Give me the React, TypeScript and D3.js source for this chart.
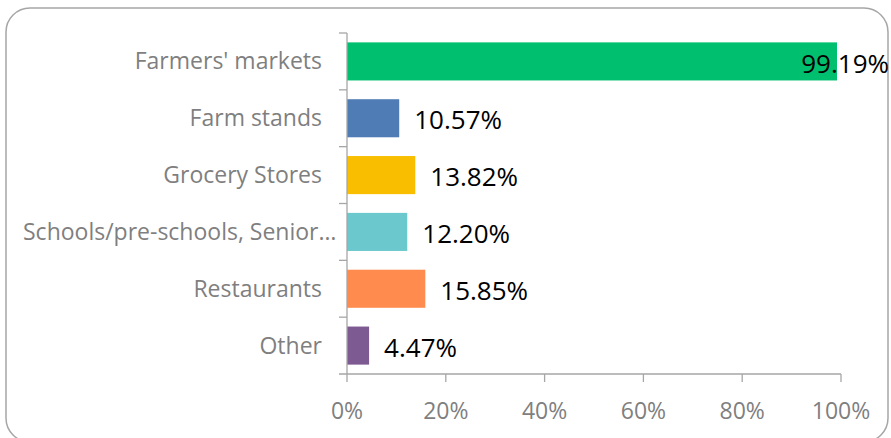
import React, { useEffect, useRef } from 'react';
import * as d3 from 'd3';

const categories = [
  "Farmers' markets",
  'Farm stands',
  'Grocery Stores',
  'Schools/pre-schools, Senior…',
  'Restaurants',
  'Other',
];
const values = [99.19, 10.57, 13.82, 12.2, 15.85, 4.47];
const barColors = ['#00bf6f', '#507cb6', '#f9be00', '#6bc8cd', '#ff8b4f', '#7d5a91'];
const xTicks = [0, 20, 40, 60, 80, 100];

const width = 891;
const height = 438;

const App: React.FC = () => {
  const svgRef = useRef<SVGSVGElement>(null);

  useEffect(() => {
    if (!svgRef.current) return;
    const svg = d3.select(svgRef.current);
    svg.selectAll('*').remove();

    const font = "'Open Sans', 'Noto Sans', sans-serif";
    const axisColor = '#a6a6a6';
    const labelColor = '#7f7f7f';

    // chart frame
    svg.append('rect')
      .attr('x', 6)
      .attr('y', 8)
      .attr('width', 882)
      .attr('height', 434)
      .attr('rx', 24)
      .attr('fill', '#fff')
      .attr('stroke', axisColor)
      .attr('stroke-width', 1.5);

    const x = d3.scaleLinear().domain([0, 100]).range([347, 841]);
    const y = d3.scaleBand<string>()
      .domain(categories)
      .range([33, 374])
      .paddingInner(0.33)
      .paddingOuter(0.165);

    const step = y.step();
    const y0 = 33;

    // bars
    svg.append('g')
      .selectAll('rect')
      .data(values)
      .enter()
      .append('rect')
      .attr('x', x(0))
      .attr('y', (_, i) => y(categories[i])!)
      .attr('width', d => x(d) - x(0))
      .attr('height', y.bandwidth())
      .attr('fill', (_, i) => barColors[i]);

    // axes
    const ax = svg.append('g').attr('stroke', axisColor).attr('stroke-width', 1.3);
    ax.append('line').attr('x1', x(0)).attr('x2', x(0)).attr('y1', y0).attr('y2', 374);
    ax.append('line').attr('x1', x(0) - 8).attr('x2', x(100)).attr('y1', 374).attr('y2', 374);
    ax.selectAll('.ytick')
      .data(d3.range(categories.length))
      .enter()
      .append('line')
      .attr('x1', x(0) - 8)
      .attr('x2', x(0))
      .attr('y1', i => y0 + i * step)
      .attr('y2', i => y0 + i * step);
    ax.selectAll('.xtick')
      .data(xTicks)
      .enter()
      .append('line')
      .attr('x1', d => x(d))
      .attr('x2', d => x(d))
      .attr('y1', 374)
      .attr('y2', 382);

    // x tick labels
    svg.append('g')
      .selectAll('text')
      .data(xTicks)
      .enter()
      .append('text')
      .attr('x', d => x(d))
      .attr('y', 411)
      .attr('dy', '0.35em')
      .attr('text-anchor', 'middle')
      .attr('font-family', font)
      .attr('font-size', 23)
      .attr('fill', labelColor)
      .text(d => `${d}%`);

    // category labels
    const catLabels = svg.append('g')
      .selectAll('text')
      .data(categories)
      .enter()
      .append('text')
      .attr('x', 322)
      .attr('y', d => y(d)! + y.bandwidth() / 2)
      .attr('dy', '0.35em')
      .attr('text-anchor', 'end')
      .attr('font-family', font)
      .attr('font-size', 23)
      .attr('fill', labelColor)
      .text(d => d);

    // long labels start at the left edge instead
    catLabels.each(function () {
      const t = this as SVGTextElement;
      if (322 - t.getComputedTextLength() < 23) {
        d3.select(t).attr('x', 23).attr('text-anchor', 'start');
      }
    });

    // value labels
    svg.append('g')
      .selectAll('text')
      .data(values)
      .enter()
      .append('text')
      .attr('x', d => x(d) + 15)
      .attr('y', (_, i) => y(categories[i])! + y.bandwidth() / 2 + 2)
      .attr('dy', '0.35em')
      .attr('font-family', font)
      .attr('font-size', 26)
      .attr('fill', '#000')
      .text(d => `${d.toFixed(2)}%`)
      .each(function () {
        const t = this as SVGTextElement;
        const w = t.getComputedTextLength();
        const left = +t.getAttribute('x')!;
        if (left + w > 889) {
          d3.select(t).attr('x', 889).attr('text-anchor', 'end');
        }
      });
  }, []);

  return (
    <svg
      ref={svgRef}
      width={width}
      height={height}
      viewBox={`0 0 ${width} ${height}`}
      style={{ position: 'absolute', left: 0, top: 0, background: '#fff' }}
    />
  );
};

export default App;
